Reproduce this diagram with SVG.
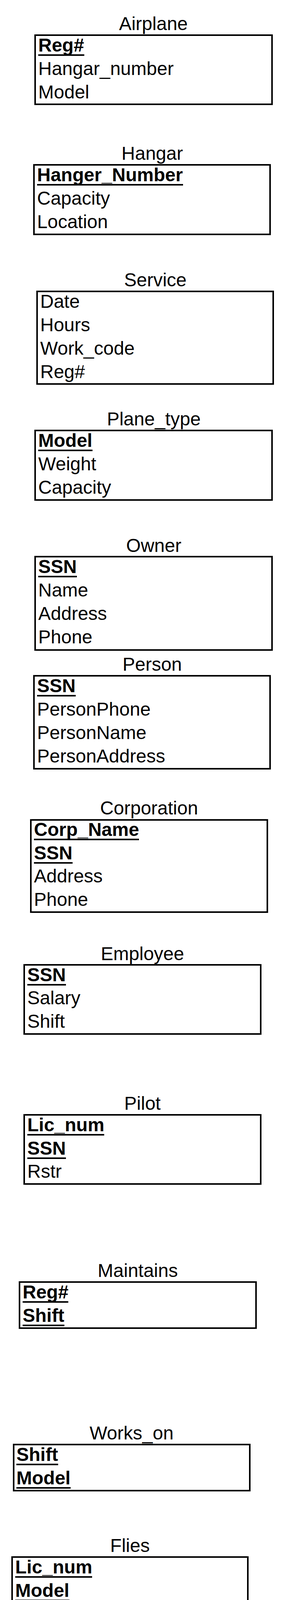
<svg xmlns="http://www.w3.org/2000/svg" width="720" height="4132" viewBox="0 0 720 4132">
<style>
text{font-family:"Liberation Sans",Arial,Helvetica,sans-serif;font-size:48px;fill:#000}
.title{text-anchor:middle}
.key{font-weight:bold}
.box{fill:#fff;stroke:#000;stroke-width:4}
.ul{stroke:#000;stroke-width:4}
</style>
<rect x="0" y="0" width="720" height="4132" fill="#fff"/>
<g id="connectors"/>
<g id="airplane">
<rect class="box" x="90" y="90" width="607" height="177"/>
<text class="title" x="393" y="77">Airplane</text>
<text class="key" x="98" y="132">Reg#</text>
<line class="ul" x1="98" y1="141" x2="216" y2="141"/>
<text x="98" y="192">Hangar_number</text>
<text x="98" y="252">Model</text>
</g>
<g id="hangar">
<rect class="box" x="87" y="422" width="605" height="178"/>
<text class="title" x="390" y="409">Hangar</text>
<text class="key" x="95" y="464">Hanger_Number</text>
<line class="ul" x1="95" y1="473" x2="469" y2="473"/>
<text x="95" y="524">Capacity</text>
<text x="95" y="584">Location</text>
</g>
<g id="service">
<rect class="box" x="95" y="746" width="605" height="237"/>
<text class="title" x="398" y="733">Service</text>
<text x="103" y="788">Date</text>
<text x="103" y="848">Hours</text>
<text x="103" y="908">Work_code</text>
<text x="103" y="968">Reg#</text>
</g>
<g id="plane_type">
<rect class="box" x="90" y="1102" width="607" height="178"/>
<text class="title" x="394" y="1089">Plane_type</text>
<text class="key" x="98" y="1144">Model</text>
<line class="ul" x1="98" y1="1153" x2="237" y2="1153"/>
<text x="98" y="1204">Weight</text>
<text x="98" y="1264">Capacity</text>
</g>
<g id="owner">
<rect class="box" x="90" y="1425" width="607" height="239"/>
<text class="title" x="394" y="1413">Owner</text>
<text class="key" x="98" y="1467">SSN</text>
<line class="ul" x1="98" y1="1476" x2="197" y2="1476"/>
<text x="98" y="1527">Name</text>
<text x="98" y="1587">Address</text>
<text x="98" y="1647">Phone</text>
</g>
<g id="person">
<rect class="box" x="87" y="1730" width="605" height="238"/>
<text class="title" x="390" y="1717">Person</text>
<text class="key" x="95" y="1772">SSN</text>
<line class="ul" x1="95" y1="1781" x2="194" y2="1781"/>
<text x="95" y="1832">PersonPhone</text>
<text x="95" y="1892">PersonName</text>
<text x="95" y="1952">PersonAddress</text>
</g>
<g id="corporation">
<rect class="box" x="79" y="2099" width="606" height="236"/>
<text class="title" x="382" y="2085">Corporation</text>
<text class="key" x="87" y="2140">Corp_Name</text>
<line class="ul" x1="87" y1="2149" x2="356" y2="2149"/>
<text class="key" x="87" y="2200">SSN</text>
<line class="ul" x1="87" y1="2209" x2="186" y2="2209"/>
<text x="87" y="2259">Address</text>
<text x="87" y="2319">Phone</text>
</g>
<g id="employee">
<rect class="box" x="62" y="2470" width="606" height="177"/>
<text class="title" x="365" y="2458">Employee</text>
<text class="key" x="70" y="2512">SSN</text>
<line class="ul" x1="70" y1="2521" x2="169" y2="2521"/>
<text x="70" y="2571">Salary</text>
<text x="70" y="2631">Shift</text>
</g>
<g id="pilot">
<rect class="box" x="62" y="2854" width="606" height="177"/>
<text class="title" x="365" y="2841">Pilot</text>
<text class="key" x="70" y="2896">Lic_num</text>
<line class="ul" x1="70" y1="2905" x2="267" y2="2905"/>
<text class="key" x="70" y="2956">SSN</text>
<line class="ul" x1="70" y1="2965" x2="169" y2="2965"/>
<text x="70" y="3015">Rstr</text>
</g>
<g id="maintains">
<rect class="box" x="50" y="3282" width="606" height="118"/>
<text class="title" x="353" y="3269">Maintains</text>
<text class="key" x="58" y="3324">Reg#</text>
<line class="ul" x1="58" y1="3333" x2="175" y2="3333"/>
<text class="key" x="58" y="3384">Shift</text>
<line class="ul" x1="58" y1="3393" x2="165" y2="3393"/>
</g>
<g id="works_on">
<rect class="box" x="35" y="3698" width="605" height="118"/>
<text class="title" x="337" y="3685">Works_on</text>
<text class="key" x="42" y="3740">Shift</text>
<line class="ul" x1="42" y1="3749" x2="149" y2="3749"/>
<text class="key" x="42" y="3800">Model</text>
<line class="ul" x1="42" y1="3809" x2="181" y2="3809"/>
</g>
<g id="flies">
<rect class="box" x="31" y="3986" width="604" height="118"/>
<text class="title" x="333" y="3973">Flies</text>
<text class="key" x="39" y="4028">Lic_num</text>
<line class="ul" x1="39" y1="4037" x2="236" y2="4037"/>
<text class="key" x="39" y="4088">Model</text>
<line class="ul" x1="39" y1="4097" x2="178" y2="4097"/>
</g>
</svg>
